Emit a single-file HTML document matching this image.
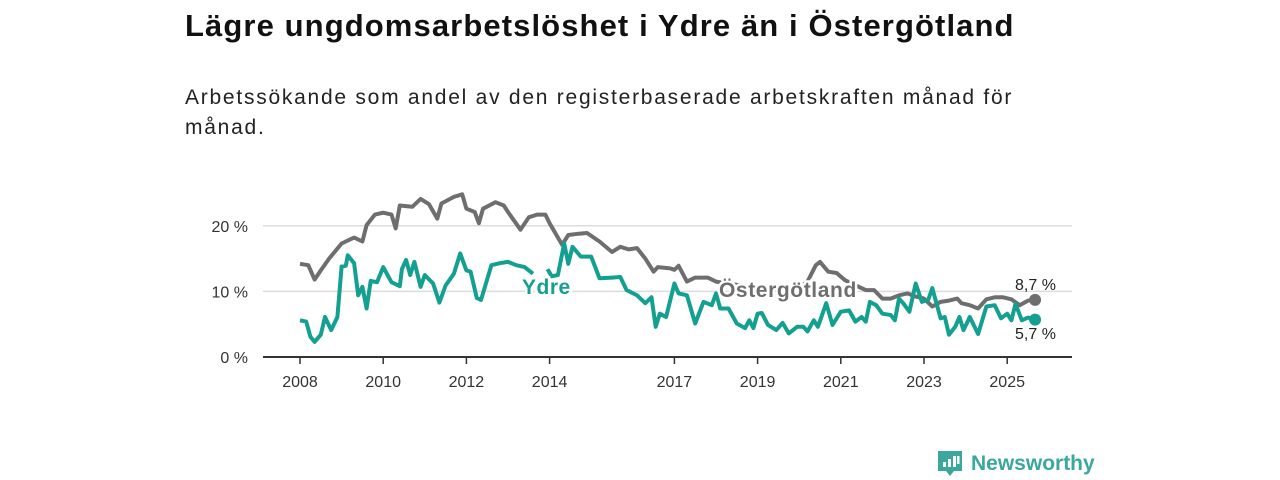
<!DOCTYPE html>
<html><head><meta charset="utf-8">
<style>
body{margin:0;background:#fff;width:1280px;height:480px;overflow:hidden;font-family:"Liberation Sans",sans-serif;}
svg{position:absolute;left:0;top:0}
</style></head>
<body>
<svg width="1280" height="480" id="chart">
<text x="185" y="36" font-size="31" font-weight="bold" letter-spacing="1.1" fill="#111">Lägre ungdomsarbetslöshet i Ydre än i Östergötland</text>
<text x="185" y="104" font-size="21" letter-spacing="1.75" fill="#222">Arbetssökande som andel av den registerbaserade arbetskraften månad för</text>
<text x="185" y="134" font-size="21" letter-spacing="1.75" fill="#222">månad.</text>
<g id="grid"></g><g id="axes"></g><g id="lines"></g><g id="labels"></g>
<g>
<path d="M938 451 h24 v20 h-8 l-4 5 l-4 -5 h-8 z" fill="#3aa89c"/>
<rect x="943" y="462" width="3" height="5" fill="#fff"/><rect x="948" y="459" width="3" height="8" fill="#fff"/><rect x="953" y="456" width="3" height="11" fill="#fff"/><rect x="957" y="456" width="2.5" height="8" fill="#fff"/>
<text x="971" y="470" font-size="21" font-weight="bold" fill="#3aa89c">Newsworthy</text>
</g>
</svg>
<script>
const yTicks=[0,10,20];
const xTickYears=[2008,2010,2012,2014,2017,2019,2021,2023,2025];
const ostT=[2008.0,2008.2,2008.35,2008.5,2008.7,2009.0,2009.3,2009.5,2009.6,2009.8,2010.0,2010.2,2010.3,2010.4,2010.7,2010.9,2011.1,2011.3,2011.4,2011.7,2011.9,2012.0,2012.2,2012.3,2012.4,2012.7,2012.9,2013.0,2013.3,2013.5,2013.7,2013.9,2014.0,2014.3,2014.45,2014.7,2014.9,2015.2,2015.5,2015.7,2015.9,2016.1,2016.3,2016.5,2016.6,2016.9,2017.0,2017.1,2017.3,2017.5,2017.8,2018.0,2018.5,2019.0,2019.5,2020.0,2020.2,2020.4,2020.5,2020.7,2020.9,2021.1,2021.4,2021.6,2021.8,2022.0,2022.2,2022.4,2022.6,2022.8,2023.0,2023.2,2023.4,2023.6,2023.8,2023.9,2024.1,2024.3,2024.5,2024.7,2024.9,2025.1,2025.3,2025.5,2025.67];
const ostV=[14.2,14.0,11.8,13.2,15.0,17.3,18.2,17.6,20.1,21.7,22.0,21.7,19.6,23.1,22.9,24.1,23.3,21.1,23.4,24.4,24.8,22.6,22.1,20.4,22.6,23.6,23.1,22.1,19.4,21.3,21.7,21.7,20.4,17.1,18.6,18.8,18.9,17.6,16.0,16.8,16.4,16.6,15.0,13.0,13.7,13.5,13.3,13.9,11.5,12.1,12.1,11.5,11.0,10.5,10.2,10.5,11.5,14.0,14.5,13.0,12.8,11.7,10.8,10.2,10.2,8.9,8.9,9.4,9.7,9.2,8.9,7.7,8.4,8.6,8.9,8.2,7.9,7.4,8.8,9.1,9.1,8.8,7.9,8.6,8.7];
const ydreT=[2008.0,2008.15,2008.25,2008.35,2008.5,2008.6,2008.75,2008.9,2009.0,2009.1,2009.15,2009.3,2009.4,2009.5,2009.6,2009.7,2009.85,2010.0,2010.2,2010.4,2010.45,2010.55,2010.65,2010.75,2010.9,2011.0,2011.2,2011.35,2011.5,2011.7,2011.85,2012.0,2012.1,2012.25,2012.35,2012.6,2012.8,2013.0,2013.2,2013.4,2013.6,2013.8,2013.95,2014.05,2014.2,2014.35,2014.45,2014.55,2014.75,2015.0,2015.2,2015.5,2015.7,2015.85,2016.1,2016.3,2016.45,2016.55,2016.65,2016.8,2017.0,2017.1,2017.3,2017.5,2017.7,2017.9,2018.0,2018.1,2018.3,2018.5,2018.7,2018.8,2018.9,2019.0,2019.1,2019.25,2019.45,2019.6,2019.75,2019.95,2020.1,2020.2,2020.35,2020.45,2020.55,2020.65,2020.8,2021.0,2021.2,2021.35,2021.5,2021.6,2021.7,2021.85,2022.0,2022.2,2022.3,2022.4,2022.5,2022.65,2022.8,2022.95,2023.1,2023.2,2023.4,2023.5,2023.6,2023.75,2023.85,2023.95,2024.1,2024.3,2024.5,2024.7,2024.85,2025.0,2025.1,2025.2,2025.35,2025.5,2025.67];
const ydreV=[5.6,5.4,3.1,2.3,3.4,6.1,4.1,6.1,13.8,13.9,15.5,14.3,9.4,10.7,7.4,11.6,11.4,13.7,11.4,10.8,13.4,14.8,12.5,14.5,10.7,12.5,11.2,8.3,10.9,12.7,15.8,13.2,13.0,9.0,8.7,14.0,14.3,14.5,14.0,13.7,12.7,null,13.4,12.3,12.5,17.3,14.2,16.8,15.3,15.3,12.0,12.1,12.2,10.2,9.4,8.2,9.1,4.6,6.6,6.1,11.2,9.7,9.4,5.1,8.4,7.9,9.7,7.4,7.4,5.1,4.4,5.6,4.4,6.6,6.7,4.9,4.1,5.2,3.6,4.6,4.6,3.9,5.6,4.6,6.4,8.2,4.9,6.9,7.1,5.4,6.1,5.4,8.4,7.9,6.6,6.4,5.6,8.9,8.2,6.9,11.2,8.4,8.7,10.5,5.9,6.1,3.4,4.6,6.1,4.1,6.1,3.5,7.7,7.9,5.9,6.6,5.6,8.1,5.6,6.0,5.7];
const endLabels=["8,7 %","5,7 %"];

const NS="http://www.w3.org/2000/svg";
const X=t=>300+(t-2008)*41.6;
const Y=v=>357-v*6.56;
function mk(tag,attrs,parent){const e=document.createElementNS(NS,tag);for(const k in attrs)e.setAttribute(k,attrs[k]);document.getElementById(parent).appendChild(e);return e;}
yTicks.forEach(v=>{
  if(v>0){const g=mk('line',{x1:263,x2:1072,y1:Y(v),y2:Y(v),stroke:'#dcdcdc','stroke-width':1.5},'grid');
  
  }
  const t=mk('text',{x:248,y:Y(v)+6,'text-anchor':'end','font-size':16,fill:'#333'},'axes');t.textContent=v+' %';
  
  
});
const base=mk('line',{x1:263,x2:1072,y1:357,y2:357,stroke:'#333','stroke-width':2},'axes');


xTickYears.forEach(yr=>{
  const tk=mk('line',{x1:X(yr),x2:X(yr),y1:357,y2:364,stroke:'#333','stroke-width':1.5},'axes');
  
  
  const t=mk('text',{x:X(yr),y:387,'text-anchor':'middle','font-size':16,fill:'#333'},'axes');t.textContent=yr;
  
  
});
function path(T,V){let d='',pen=false;T.forEach((t,i)=>{if(V[i]==null){pen=false;return;}d+=(pen?'L':'M')+X(t).toFixed(1)+' '+Y(V[i]).toFixed(1);pen=true;});return d;}
const lo=mk('path',{d:path(ostT,ostV),fill:'none',stroke:'#6e6e6e','stroke-width':4,'stroke-linejoin':'round'},'lines');


const ly=mk('path',{d:path(ydreT,ydreV),fill:'none',stroke:'#13a090','stroke-width':4,'stroke-linejoin':'round'},'lines');


const d1=mk('circle',{cx:X(ostT[ostT.length-1]),cy:Y(ostV[ostV.length-1]),r:6,fill:'#6e6e6e'},'lines');


const d2=mk('circle',{cx:X(ydreT[ydreT.length-1]),cy:Y(ydreV[ydreV.length-1]),r:6,fill:'#13a090'},'lines');


const la=mk('text',{x:522,y:294,'font-size':21,'letter-spacing':0.5,'font-weight':'bold',fill:'#13a090',stroke:'#fff','stroke-width':5,'paint-order':'stroke'},'labels');la.textContent='Ydre';


const lb=mk('text',{x:719,y:297,'font-size':21,'letter-spacing':0.6,'font-weight':'bold',fill:'#6e6e6e',stroke:'#fff','stroke-width':5,'paint-order':'stroke'},'labels');lb.textContent='Östergötland';


const e1=mk('text',{x:1015,y:290,'font-size':16,fill:'#222'},'labels');e1.textContent=endLabels[0];


const e2=mk('text',{x:1015,y:339,'font-size':16,fill:'#222'},'labels');e2.textContent=endLabels[1];


</script>
</body></html>
